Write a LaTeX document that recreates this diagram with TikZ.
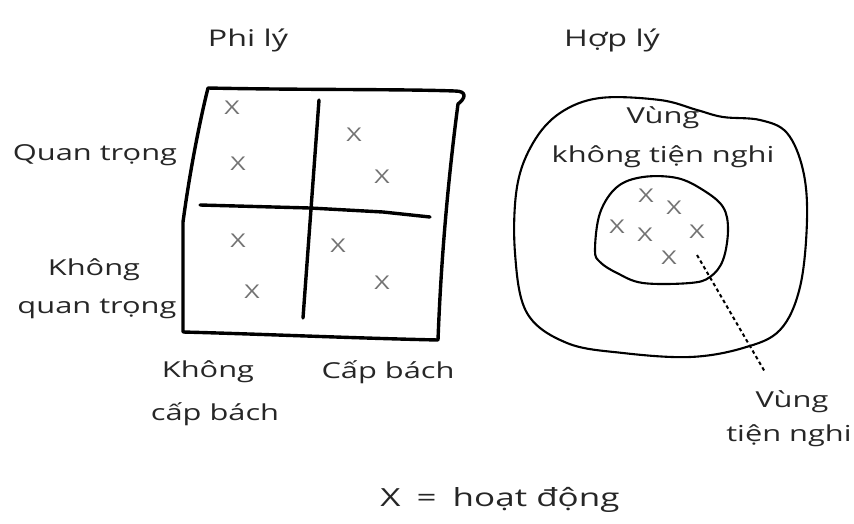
\documentclass[tikz,border=0pt]{standalone}
\usepackage{fontspec}
\setmainfont{Open Sans}[FakeStretch=1.4]
\begin{document}
\begin{tikzpicture}[x=1pt,y=-1pt,
  lbl/.style={font=\fontsize{22}{26}\selectfont, text=black!85, align=center, inner sep=0pt},
  xmark/.style={font=\fontsize{19}{20}\selectfont, text=black!55, inner sep=0pt},
  thick line/.style={line width=3.4pt, line cap=round, line join=round},
  blob/.style={line width=2.1pt},
  dashline/.style={line width=2pt, dash pattern=on 3.5pt off 3pt}]
\useasboundingbox (0,0) rectangle (854,523);
% titles
\node[lbl, font=\fontsize{23}{26}\selectfont] (t1) at (248,40) {Phi lý};
\node[lbl, font=\fontsize{23}{26}\selectfont] (t2) at (612,40) {Hợp lý};
% square
\draw[thick line] (208,88) .. controls (300,90) and (400,89) .. (455,91)
  .. controls (467,91) and (466,98) .. (458,104)
  .. controls (448,180) and (441,260) .. (438,340)
  .. controls (350,338) and (260,334) .. (183,332)
  -- (183,222) .. controls (190,170) and (200,120) .. cycle;
\draw[thick line] (319,100) -- (303,318);
\draw[thick line] (200,205) -- (310,208) -- (383,212) -- (430,217);
% X marks in square
\node[xmark] (a1) at (232,108) {X};
\node[xmark] (a2) at (238,164) {X};
\node[xmark] (a3) at (354,135) {X};
\node[xmark] (a4) at (382,177) {X};
\node[xmark] (a5) at (238,241) {X};
\node[xmark] (a6) at (252,292) {X};
\node[xmark] (a7) at (338,246) {X};
\node[xmark] (a8) at (382,283) {X};
% square labels
\node[lbl] (l1) at (95,155) {Quan trọng};
\node[lbl] (l2) at (94,270) {Không};
\node[lbl] (l3) at (97,309) {quan trọng};
\node[lbl] (l4) at (208,372) {Không};
\node[lbl] (l5) at (215,414) {cấp bách};
\node[lbl] (l6) at (388,372) {Cấp bách};
% blobs
\draw[blob] plot[smooth cycle, tension=0.6] coordinates {
  (600,98) (660,100) (697,110) (723,117) (760,120) (787,133) (803,170)
  (807,220) (800,287) (780,330) (743,348) (690,357) (623,353) (567,343)
  (527,313) (515,253) (517,187) (533,143) (560,113)};
\draw[blob] plot[smooth cycle, tension=0.6] coordinates {
  (595,250) (600,213) (617,187) (643,177) (677,178) (703,190) (723,207)
  (728,230) (723,260) (710,277) (690,283) (643,283) (617,273) (600,262)};
\node[lbl] (v1) at (663,118) {Vùng};
\node[lbl] (v2) at (663,157) {không tiện nghi};
% X marks in inner blob
\node[xmark] (b1) at (646,196) {X};
\node[xmark] (b2) at (674,208) {X};
\node[xmark] (b3) at (617,227) {X};
\node[xmark] (b4) at (645,235) {X};
\node[xmark] (b5) at (697,232) {X};
\node[xmark] (b6) at (669,258) {X};
% comfort zone label
\node[lbl] (c1) at (792,402) {Vùng};
\node[lbl] (c2) at (789,436) {tiện nghi};
\coordinate (ds) at (697,255);
\coordinate (de) at (765,372);
\draw[dashline] (ds) -- (de);
% legend
\node[lbl, font=\fontsize{25}{28}\selectfont] (leg) at (500,500) {X \;=\; hoạt động};
\end{tikzpicture}
\end{document}
